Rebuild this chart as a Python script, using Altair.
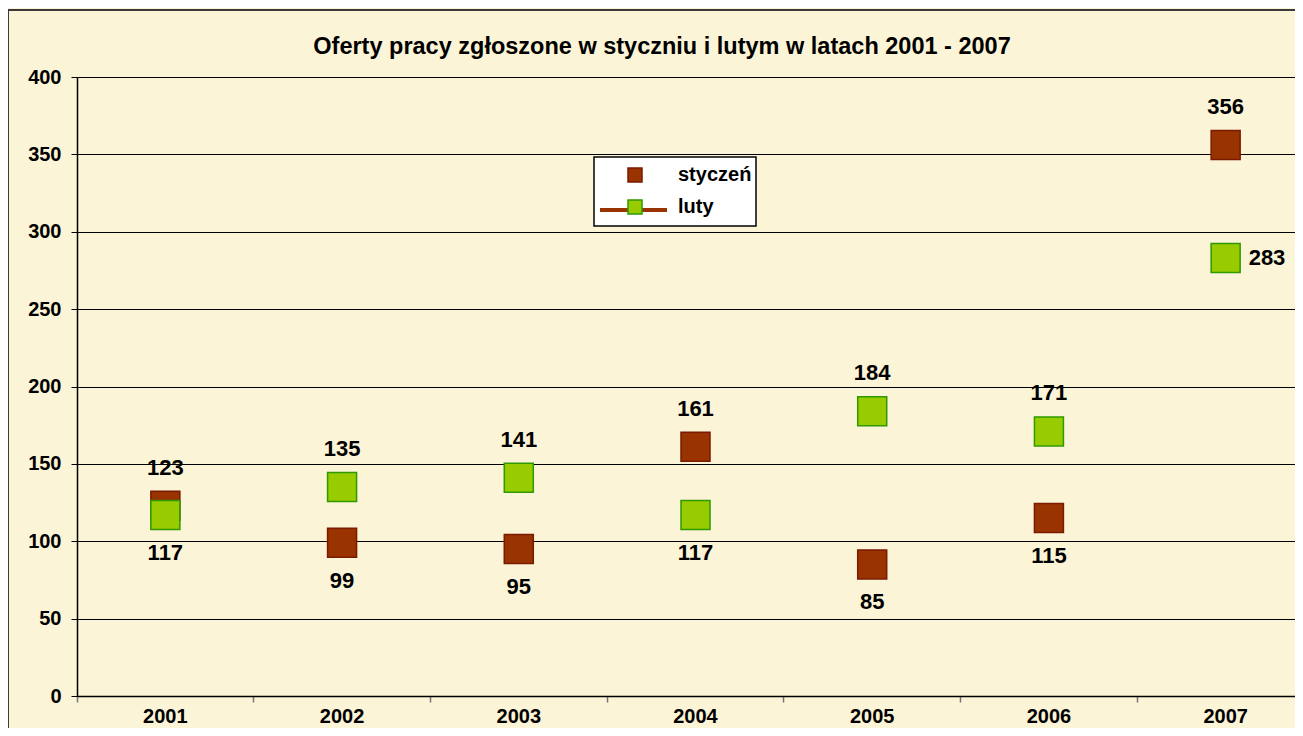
import altair as alt
import pandas as pd

years = ["2001", "2002", "2003", "2004", "2005", "2006", "2007"]
styczen = [123, 99, 95, 161, 85, 115, 356]
luty = [117, 135, 141, 117, 184, 171, 283]
series_names = ["styczeń", "luty"]
title_text = "Oferty pracy zgłoszone w styczniu i lutym  w latach 2001 - 2007"

rows = []
for i, y in enumerate(years):
    s, l = styczen[i], luty[i]
    rows.append({"year": y, "series": "styczeń", "value": s,
                 "pos": "above" if s >= l else "below"})
    lpos = "above" if l > s else "below"
    if i == len(years) - 1 and lpos == "below":
        lpos = "right"
    rows.append({"year": y, "series": "luty", "value": l, "pos": lpos})
df = pd.DataFrame(rows)
one = pd.DataFrame({"t": [title_text]})

FONT = "Liberation Sans"
BG = "#FCF4D6"

xenc = alt.X("year:O", title=None,
             scale=alt.Scale(type="band", range=[0, 1237], paddingInner=0, paddingOuter=0),
             axis=alt.Axis(labelAngle=0, bandPosition=0, ticks=True, tickSize=6,
                           tickColor="#777777", tickWidth=1.5,
                           domainColor="#000000", domainWidth=1.5,
                           labelFont=FONT, labelFontSize=20, labelFontWeight="bold",
                           labelColor="#000000", labelPadding=4, grid=False,
                           labelBound=False, labelOverlap=False))
yenc = alt.Y("value:Q", title=None,
             scale=alt.Scale(domain=[0, 400], nice=False),
             axis=alt.Axis(values=list(range(0, 401, 50)), tickSize=6, tickColor="#000000",
                           domainColor="#000000", domainWidth=1.5, grid=True,
                           gridColor="#000000", gridWidth=1.2,
                           labelFont=FONT, labelFontSize=20, labelFontWeight="bold",
                           labelColor="#000000", labelPadding=10))

base = alt.Chart(df)
deco = alt.Chart(one)

frame = deco.mark_rect(fill=None, stroke="#3a3a3a", strokeWidth=2).encode(
    x=alt.value(-69), x2=alt.value(1300), y=alt.value(-67), y2=alt.value(720)
)

title = deco.mark_text(font=FONT, fontSize=23.5, fontWeight="bold", color="#000000",
                       align="center", baseline="middle").encode(
    x=alt.value(585), y=alt.value(-30), text="t:N"
)

legend_box = deco.mark_rect(fill="#FFFFFF", stroke="#000000", strokeWidth=1.5).encode(
    x=alt.value(517), x2=alt.value(679), y=alt.value(80), y2=alt.value(149)
)
legend_line = deco.mark_rule(color="#993300", strokeWidth=4).encode(
    x=alt.value(523), x2=alt.value(590), y=alt.value(133)
)

legend = alt.Legend(title=None, orient="none", legendX=517, legendY=80, padding=8,
                    symbolOffset=23, symbolSize=196, symbolStrokeWidth=1.5,
                    symbolType="square", labelFont=FONT, labelFontSize=20,
                    labelFontWeight="bold", labelColor="#000000", labelOffset=33,
                    rowPadding=12)

fill_scale = alt.Scale(domain=series_names, range=["#993300", "#99CC00"])
stroke_scale = alt.Scale(domain=series_names, range=["#7A1A00", "#2E9900"])

points = base.mark_point(shape="square", size=841, filled=True, opacity=1,
                         strokeWidth=1.5).encode(
    x=xenc, y=yenc,
    fill=alt.Fill("series:N", scale=fill_scale, legend=legend),
    stroke=alt.Stroke("series:N", scale=stroke_scale, legend=legend),
    order=alt.Order("order:Q"),
).transform_calculate(order="datum.series == 'luty' ? 1 : 0")

text_style = dict(font=FONT, fontSize=22, fontWeight="bold", color="#000000", baseline="middle")
lab_above = base.mark_text(dy=-38, align="center", **text_style).encode(
    x=xenc, y=yenc, text="value:Q").transform_filter("datum.pos == 'above'")
lab_below = base.mark_text(dy=38, align="center", **text_style).encode(
    x=xenc, y=yenc, text="value:Q").transform_filter("datum.pos == 'below'")
lab_right = base.mark_text(dx=23, align="left", **text_style).encode(
    x=xenc, y=yenc, text="value:Q").transform_filter("datum.pos == 'right'")

chart = alt.layer(frame, title, legend_box, legend_line, points,
                  lab_above, lab_below, lab_right).properties(
    width=1218, height=619,
    autosize=alt.AutoSizeParams(type="none"),
    padding={"left": 69, "top": 69, "right": 0, "bottom": 32},
    background=BG,
).configure_view(stroke=None)

chart.save("out.html", embed_options={"renderer": "svg", "actions": False})
